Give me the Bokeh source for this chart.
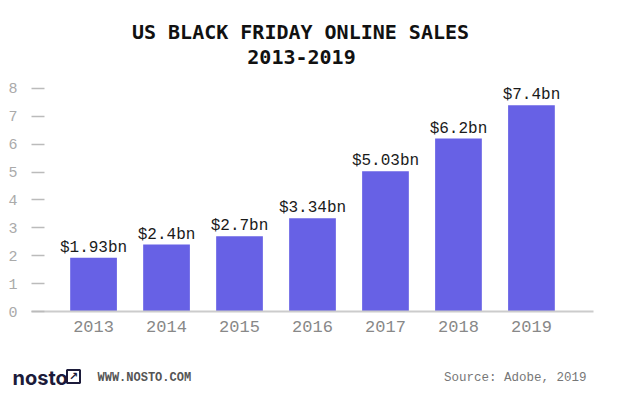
from bokeh.plotting import figure
from bokeh.layouts import column
from bokeh.models import ColumnDataSource, FactorRange, Range1d, FixedTicker
from bokeh.core.properties import value
from bokeh.embed import file_html
from bokeh.resources import INLINE

years = ["2013", "2014", "2015", "2016", "2017", "2018", "2019"]
sales = [1.93, 2.4, 2.7, 3.34, 5.03, 6.2, 7.4]
bar_labels = ["$1.93bn", "$2.4bn", "$2.7bn", "$3.34bn", "$5.03bn", "$6.2bn", "$7.4bn"]
y_ticks = [0, 1, 2, 3, 4, 5, 6, 7, 8]

title_lines = ["US BLACK FRIDAY ONLINE SALES", "2013-2019"]
footer_brand = "nosto"
footer_url = "WWW.NOSTO.COM"
footer_source = "Source: Adobe, 2019"

BAR = "#6761E5"
MONO = "Liberation Mono"
W = 625


def strip(height):
    s = figure(width=W, height=height, x_range=Range1d(0, W), y_range=Range1d(0, height),
               output_backend="svg", toolbar_location=None,
               x_axis_location=None, y_axis_location=None,
               min_border_left=0, min_border_right=0, min_border_top=0, min_border_bottom=0)
    s.frame_align = False
    s.xgrid.visible = False
    s.ygrid.visible = False
    s.outline_line_color = None
    s.title.visible = False
    return s


# header with the two title lines
h = strip(79)
h.text(x=[300, 301], y=[48, 23], text=title_lines, text_font=value("DejaVu Sans Mono"),
       text_font_style="bold", text_font_size="20px", text_color="#111111",
       text_align="center", text_baseline="middle")

# main chart
src = ColumnDataSource(dict(year=years, sales=sales, label=bar_labels))

p = figure(
    width=W, height=268,
    x_range=FactorRange(*years, range_padding=0.35, range_padding_units="absolute"),
    y_range=Range1d(0, 8.32),
    output_backend="svg", toolbar_location=None,
    min_border_left=31, min_border_right=32, min_border_bottom=36, min_border_top=0,
)
p.frame_align = False
p.title.visible = False

p.vbar(x="year", top="sales", width=0.64, source=src, color=BAR, line_color=None)
p.text(x="year", y="sales", text="label", source=src, text_align="center",
       text_baseline="alphabetic", y_offset=-10, text_font_size="16px",
       text_color="#1a1a1a", text_font=value(MONO))

p.xgrid.visible = False
p.ygrid.visible = False
p.outline_line_color = None
p.background_fill_color = "white"
p.border_fill_color = "white"

xa = p.xaxis[0]
xa.axis_line_color = "#cccccc"
xa.axis_line_width = 2
xa.major_tick_line_color = None
xa.minor_tick_line_color = None
xa.major_label_text_font = MONO
xa.major_label_text_font_size = "17px"
xa.major_label_text_color = "#888888"
xa.major_label_standoff = 3

ya = p.yaxis[0]
ya.ticker = FixedTicker(ticks=y_ticks)
ya.axis_line_color = None
ya.major_tick_in = 13
ya.major_tick_out = 0
ya.major_tick_line_color = "#bbbbbb"
ya.major_tick_line_width = 1.5
ya.minor_tick_line_color = None
ya.major_label_text_font = MONO
ya.major_label_text_font_size = "15px"
ya.major_label_text_color = "#aaaaaa"
ya.major_label_standoff = 14

# footer strip
f = strip(50)
f.text(x=[12], y=[20], text=[footer_brand], text_font=value("Inter"), text_font_style="bold",
       text_font_size="20px", text_color="#1c1b3a", text_baseline="middle", text_align="left")
f.rect(x=[73], y=[21], width=13, height=13, fill_color=None, line_color="#1c1b3a",
       line_width=2)
f.text(x=[73], y=[21], text=["↗"], text_font=value("DejaVu Sans"), text_font_style="bold",
       text_font_size="11px", text_color="#1c1b3a", text_baseline="middle", text_align="center")
f.text(x=[97], y=[20], text=[footer_url], text_font=value(MONO), text_font_style="bold",
       text_font_size="12px", text_color="#555555", text_baseline="middle", text_align="left")
f.text(x=[586], y=[20], text=[footer_source], text_font=value(MONO),
       text_font_size="12.5px", text_color="#777777", text_baseline="middle", text_align="right")

layout = column(h, p, f, spacing=0)
open("out.html", "w").write(file_html(layout, INLINE))
